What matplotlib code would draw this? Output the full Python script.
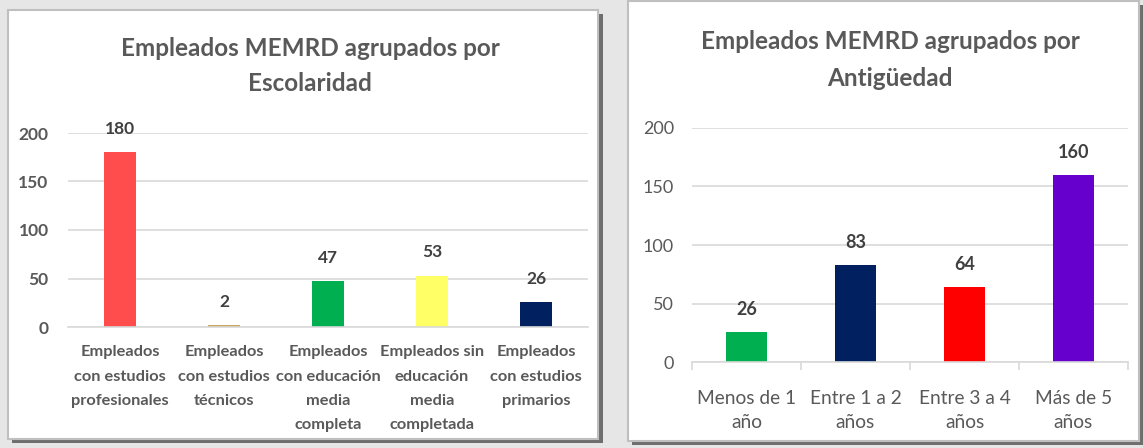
import matplotlib.pyplot as plt
from matplotlib.patches import Rectangle

# Data
esc_labels = ['Empleados\ncon estudios\nprofesionales', 'Empleados\ncon estudios\ntécnicos',
              'Empleados\ncon educación\nmedia\ncompleta', 'Empleados sin\neducación\nmedia\ncompletada',
              'Empleados\ncon estudios\nprimarios']
esc_values = [180, 2, 47, 53, 26]
esc_colors = ['#FF4D4D', '#C9A961', '#00B050', '#FFFF66', '#002060']

ant_labels = ['Menos de 1\naño', 'Entre 1 a 2\naños', 'Entre 3 a 4\naños', 'Más de 5\naños']
ant_values = [26, 83, 64, 160]
ant_colors = ['#00B050', '#002060', '#FF0000', '#6600CC']

W, H = 1143, 448
plt.rcParams['font.family'] = ['Lato', 'DejaVu Sans']
TXT = '#595959'
GRID = '#D9D9D9'

fig = plt.figure(figsize=(W / 100, H / 100), dpi=100, facecolor='#E6E6E6')


def px_box(x0, y0, x1, y1):
    """pixel box (top-left origin) -> figure fraction rect"""
    return [x0 / W, 1 - y1 / H, (x1 - x0) / W, (y1 - y0) / H]


def panel(x0, y0, x1, y1):
    l, b, w, h = px_box(x0 + 4, y0 + 4, x1 + 5, y1 + 4)
    fig.add_artist(Rectangle((l, b), w, h, transform=fig.transFigure,
                             facecolor='#6E6E6E', edgecolor='none', zorder=-3))
    l, b, w, h = px_box(x0, y0, x1, y1)
    fig.add_artist(Rectangle((l, b), w, h, transform=fig.transFigure,
                             facecolor='white', edgecolor='#BFBFBF', lw=1.5, zorder=-2))


panel(8, 10, 598, 439)
panel(628, 1, 1139, 441)


def style_axes(ax):
    ax.set_ylim(0, 200)
    ax.set_yticks([0, 50, 100, 150, 200])
    ax.grid(axis='y', color=GRID, lw=1.2)
    ax.set_axisbelow(True)
    for s in ['top', 'right', 'left']:
        ax.spines[s].set_visible(False)
    ax.spines['bottom'].set_color(GRID)
    ax.spines['bottom'].set_linewidth(1.2)
    ax.set_facecolor('none')


# Left chart: Escolaridad
ax1 = fig.add_axes(px_box(68, 133, 588, 327))
style_axes(ax1)
x1 = range(len(esc_values))
ax1.bar(x1, esc_values, width=0.31, color=esc_colors)
ax1.set_xlim(-0.5, len(esc_values) - 0.5)
ax1.set_xticks(list(x1))
ax1.set_xticklabels(esc_labels, fontsize=11.8, color=TXT, fontweight='bold', linespacing=1.95)
ax1.tick_params(axis='x', length=0, pad=13)
ax1.tick_params(axis='y', length=0, pad=14, labelsize=12.5, labelcolor=TXT)
for lbl in ax1.get_yticklabels():
    lbl.set_fontweight('bold')
for i, v in enumerate(esc_values):
    ax1.annotate(str(v), (i, v), xytext=(0, 11), textcoords='offset points',
                 ha='center', va='bottom', fontsize=12.5, fontweight='bold',
                 color='#404040', annotation_clip=False)
fig.text(310 / W, 1 - 66 / H, 'Empleados MEMRD agrupados por\nEscolaridad', ha='center',
         va='center', fontsize=17.5, fontweight='bold', color=TXT, linespacing=1.6)

# Right chart: Antigüedad
ax2 = fig.add_axes(px_box(692, 128, 1128, 362))
style_axes(ax2)
x2 = range(len(ant_values))
ax2.bar(x2, ant_values, width=0.37, color=ant_colors)
ax2.set_xlim(-0.5, len(ant_values) - 0.5)
ax2.set_xticks([i - 0.5 for i in range(len(ant_values) + 1)], minor=False)
ax2.set_xticklabels([])
ax2.set_xticks(list(x2), minor=True)
ax2.set_xticklabels(ant_labels, minor=True, fontsize=13.8, color=TXT, linespacing=1.5)
ax2.tick_params(axis='x', which='major', length=6, color=GRID, width=1.2)
ax2.tick_params(axis='x', which='minor', length=0, pad=20)
ax2.tick_params(axis='y', length=0, pad=13, labelsize=13, labelcolor=TXT)
for i, v in enumerate(ant_values):
    ax2.annotate(str(v), (i, v), xytext=(0, 10), textcoords='offset points',
                 ha='center', va='bottom', fontsize=13, fontweight='bold',
                 color='#404040', annotation_clip=False)
fig.text(890 / W, 1 - 60 / H, 'Empleados MEMRD agrupados por\nAntigüedad', ha='center',
         va='center', fontsize=17.5, fontweight='bold', color=TXT, linespacing=1.7)

fig.savefig('out.png', dpi=100, facecolor=fig.get_facecolor())
